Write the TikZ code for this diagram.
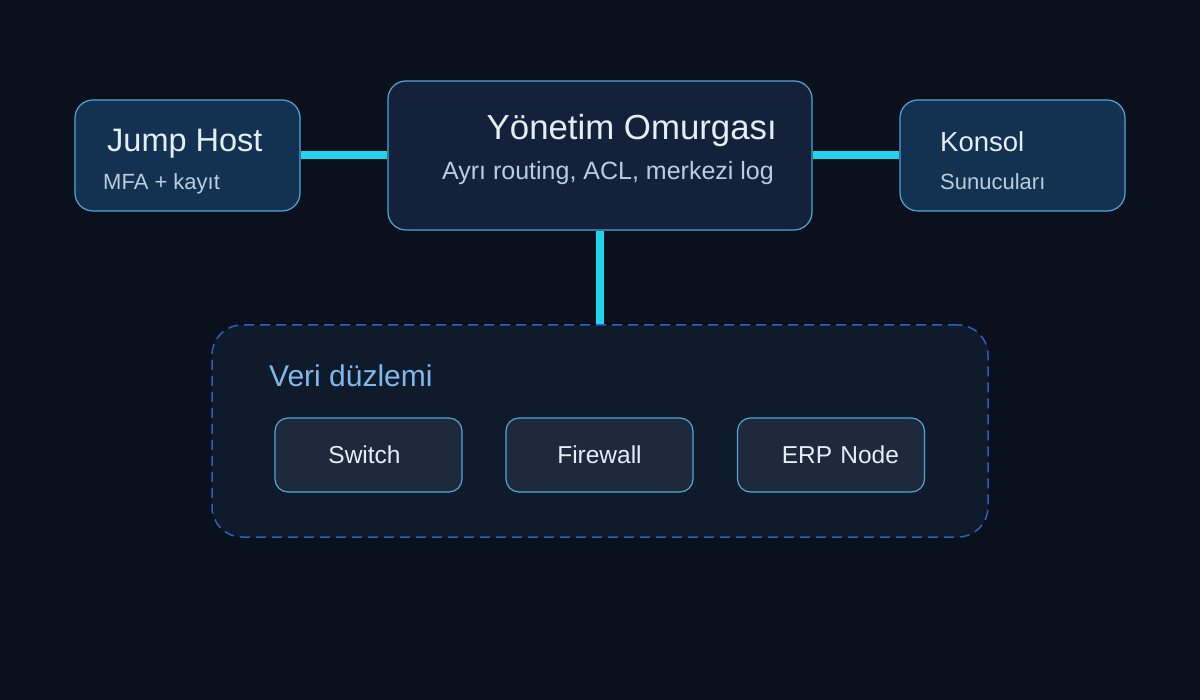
\documentclass[tikz,border=0pt]{standalone}
\usepackage{fontspec}
\setmainfont{Liberation Sans}
\usetikzlibrary{positioning}

\definecolor{bgnavy}{HTML}{0A111C}
\definecolor{hostfill}{HTML}{133150}
\definecolor{corefill}{HTML}{13223A}
\definecolor{planefill}{HTML}{0F1A2B}
\definecolor{devfill}{HTML}{1E293B}
\definecolor{edgeblue}{HTML}{4FA6D8}
\definecolor{dashblue}{HTML}{2D5EC2}
\definecolor{linkcyan}{HTML}{22D3EE}
\definecolor{titletext}{HTML}{E4EEF8}
\definecolor{subtext}{HTML}{BACDE0}
\definecolor{planetext}{HTML}{7FB8EE}

\tikzset{
  panel/.style={rectangle, rounded corners=18pt, draw=edgeblue, line width=1.2pt, inner sep=0pt},
  devbox/.style={panel, rounded corners=13pt, fill=devfill, minimum width=187pt, minimum height=74pt,
    text=titletext, font=\fontsize{24.5}{28}\selectfont},
  link/.style={linkcyan, line width=8pt},
  bigtitle/.style={anchor=base west, text=titletext, inner sep=0pt},
  smalltitle/.style={anchor=base west, text=subtext, inner sep=0pt, font=\fontsize{22}{26}\selectfont}
}

\begin{document}
\begin{tikzpicture}[x=1pt,y=-1pt]
            % Background
            \fill[bgnavy] (0,0) rectangle (1200,700);
            \useasboundingbox (0,0) rectangle (1200,700);

            % Data plane container
            \node[rectangle, rounded corners=30pt, draw=dashblue, dash pattern=on 10pt off 6pt, line width=1.5pt,
                  fill=planefill, minimum width=776pt, minimum height=212pt] (veri) at (600,431) {};
            \node[anchor=base west, text=planetext, inner sep=0pt, font=\fontsize{30}{34}\selectfont]
                  (veribaslik) at (269,387) {Veri düzlemi};

            % Devices
            \node[devbox, text width=160pt, align=center] (switch) at (368.5,455) {Switch\hspace*{8pt}};
            \node[devbox] (firewall) at (599.5,455) {Firewall};
            \node[devbox, text width=160pt, align=right] (erp) at (831,455) {ERP Node\hspace*{12pt}};

            % Management boxes
            \node[panel, fill=hostfill, minimum width=225pt, minimum height=111pt] (jump) at (187.5,155.5) {};
            \node[panel, fill=corefill, minimum width=424pt, minimum height=149pt] (omurga) at (600,155.5) {};
            \node[panel, fill=hostfill, minimum width=225pt, minimum height=111pt] (konsol) at (1012.5,155.5) {};

            % Links
            \draw[link] (jump) -- (omurga);
            \draw[link] (omurga) -- (konsol);
            \draw[link] (omurga) -- (veri);

            % Labels
            \node[bigtitle, font=\fontsize{32.5}{38}\selectfont] (jumpbaslik) at (107,152) {Jump Host};
            \node[smalltitle] (jumpalt) at (103,190) {MFA + kayıt};
            \node[bigtitle, anchor=base east, font=\fontsize{34.8}{40}\selectfont] (omurgabaslik) at (777,140) {Yönetim Omurgası};
            \node[smalltitle, anchor=base east, font=\fontsize{25}{30}\selectfont] (omurgaalt) at (774,180) {Ayrı routing, ACL, merkezi log};
            \node[bigtitle, font=\fontsize{27.5}{32}\selectfont] (konsolbaslik) at (940,152) {Konsol};
            \node[smalltitle] (konsolalt) at (940,190) {Sunucuları};
        \end{tikzpicture}
\end{document}
